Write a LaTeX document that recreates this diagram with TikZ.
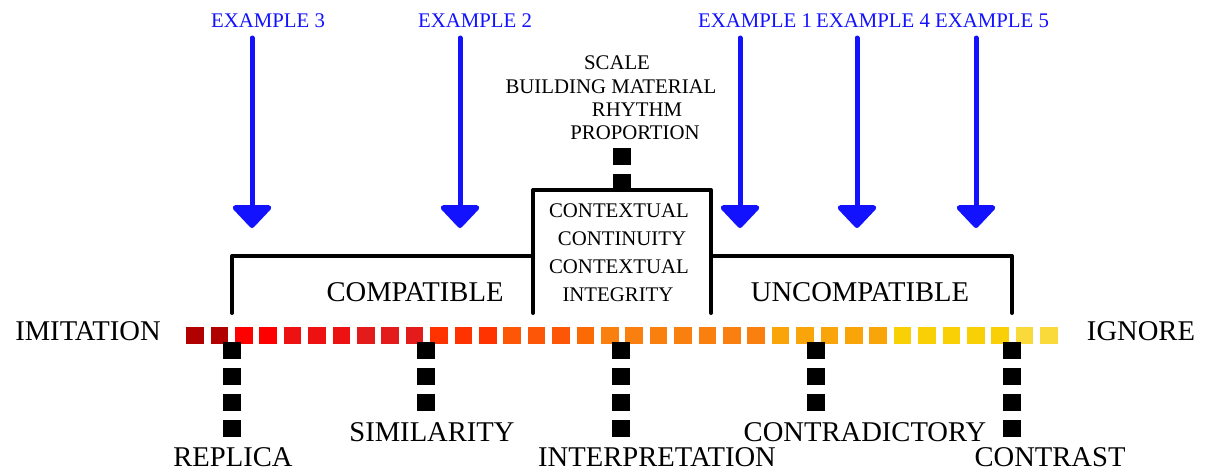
\documentclass[tikz,border=0pt]{standalone}
\usepackage{fontspec}
\setmainfont{Liberation Serif}
\usetikzlibrary{arrows.meta}
\definecolor{exblue}{RGB}{18,18,255}
\definecolor{cA}{RGB}{176,0,0}
\definecolor{cB}{RGB}{255,0,0}
\definecolor{cC}{RGB}{238,17,17}
\definecolor{cD}{RGB}{227,27,27}
\definecolor{cE}{RGB}{255,51,0}
\definecolor{cF}{RGB}{252,86,6}
\definecolor{cG}{RGB}{252,106,6}
\definecolor{cH}{RGB}{249,128,14}
\definecolor{cI}{RGB}{249,165,10}
\definecolor{cJ}{RGB}{249,207,6}
\definecolor{cK}{RGB}{249,218,58}
\begin{document}
\begin{tikzpicture}[x=0.5pt,y=-0.5pt,
  bigtxt/.style={inner sep=0pt,font=\fontsize{14.3}{16}\selectfont},
  smalltxt/.style={inner sep=0pt,font=\fontsize{10.4}{12}\selectfont},
  extxt/.style={inner sep=0pt,text=exblue,font=\fontsize{10.4}{12}\selectfont},
  exarrow/.style={draw=exblue,line width=2.5pt,line cap=round,-{Triangle[width=22pt,length=12pt,round]},exblue},
  frame/.style={draw=black,line width=2pt,line cap=round,line join=round},
  sqline/.style={draw=black,line width=8.75pt,dash pattern=on 8.5pt off 4.5pt,line cap=butt}]
\useasboundingbox (0,0) rectangle (1206,471);

% colored scale
\foreach \c [count=\i from 0] in {cA,cA,cB,cB,cC,cC,cC,cD,cD,cD,cE,cE,cE,cF,cF,cF,cG,cH,cH,cH,cH,cH,cH,cH,cI,cI,cI,cI,cI,cJ,cJ,cJ,cJ,cJ,cK,cK}
  \fill[\c] ({195+24.4*\i-8.75},327) rectangle ++(17.5,16.5);

% end labels
\node[bigtxt] (imit) at (88,331) {IMITATION};
\node[bigtxt] (ign) at (1141,331) {IGNORE};

% frame
\coordinate (fl) at (232,313);
\coordinate (fbl) at (533,313);
\coordinate (fbr) at (711,313);
\coordinate (fr) at (1012,313);
\draw[frame] (fl) |- (533,256);
\draw[frame] (fr) |- (711,256);
\draw[frame] (fbl) -- (533,190) -- (711,190) -- (fbr);

\node[bigtxt] (compat) at (415,292) {COMPATIBLE};
\node[bigtxt] (uncompat) at (860,292) {UNCOMPATIBLE};

% box text
\node[smalltxt] (b1) at (619,211) {CONTEXTUAL};
\node[smalltxt] (b2) at (622,239) {CONTINUITY};
\node[smalltxt] (b3) at (619,267) {CONTEXTUAL};
\node[smalltxt] (b4) at (618,295) {INTEGRITY};

% top text
\node[smalltxt] (t1) at (617,63) {SCALE};
\node[smalltxt] (t2) at (611,87) {BUILDING MATERIAL};
\node[smalltxt] (t3) at (637,110) {RHYTHM};
\node[smalltxt] (t4) at (635,133) {PROPORTION};
\coordinate (topA) at (622,148);
\coordinate (topB) at (622,190);
\draw[sqline] (topA) -- (topB);

% examples
\node[extxt] (ex3) at (268,21) {EXAMPLE 3};
\node[extxt] (ex2) at (475,21) {EXAMPLE 2};
\node[extxt] (ex1) at (755,21) {EXAMPLE 1};
\node[extxt] (ex4) at (873,21) {EXAMPLE 4};
\node[extxt] (ex5) at (992,21) {EXAMPLE 5};
\foreach \n/\x in {3/252,2/460,1/740,4/857,5/976}{
  \coordinate (s\n) at (\x,38);
  \coordinate (e\n) at (\x,228);
  \draw[exarrow] (s\n) -- (e\n);
}

% bottom dashed connectors and labels
\node[bigtxt] (rep) at (233,457) {REPLICA};
\node[bigtxt] (sim) at (432,432) {SIMILARITY};
\node[bigtxt] (int) at (657,457) {INTERPRETATION};
\node[bigtxt] (con) at (865,432) {CONTRADICTORY};
\node[bigtxt] (cst) at (1050,457) {CONTRAST};
\foreach \n/\x/\yb in {r/232/437,s/426/411,i/621/437,c/816/411,t/1012/437}{
  \coordinate (d\n) at (\x,342);
  \coordinate (f\n) at (\x,\yb);
  \draw[sqline] (d\n) -- (f\n);
}
\end{tikzpicture}
\end{document}
